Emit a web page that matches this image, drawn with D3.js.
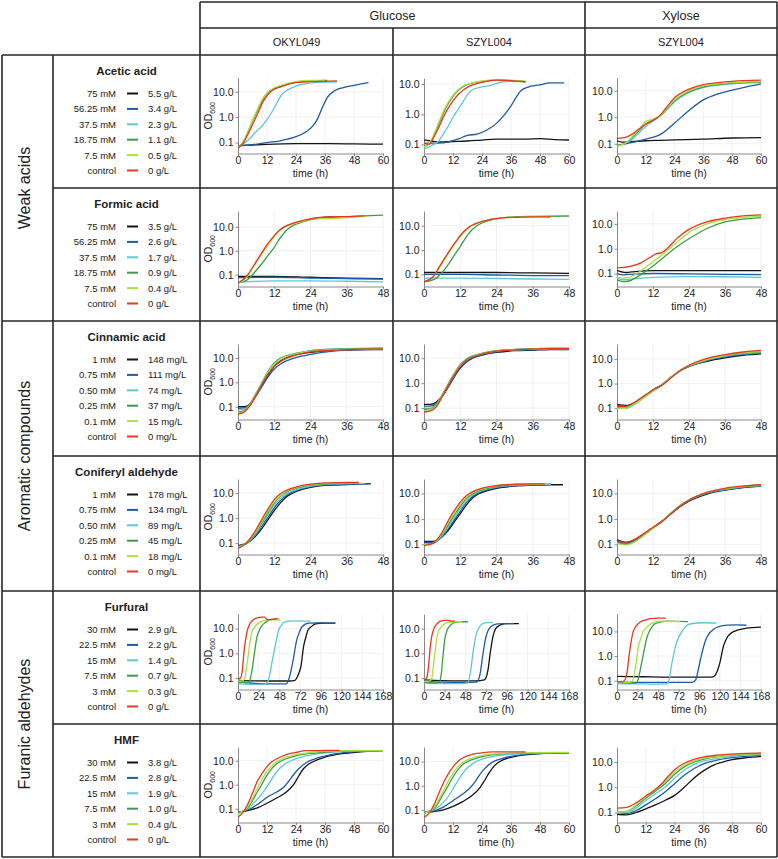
<!DOCTYPE html>
<html><head><meta charset="utf-8">
<script src="https://cdn.jsdelivr.net/npm/d3@7"></script>
<style>
body{margin:0;background:#fff}
svg{display:block}
text{font-family:"Liberation Sans",Arial,Helvetica,sans-serif;fill:#222}
</style>
</head><body>
<svg id="c" width="778" height="859"></svg>
<script>
// ---------- categories / labels ----------
const sugars = ["Glucose", "Xylose"];
const strains = ["OKYL049", "SZYL004", "SZYL004"];
const groups = ["Weak acids", "Aromatic compounds", "Furanic aldehydes"];
const compounds = ["Acetic acid", "Formic acid", "Cinnamic acid", "Coniferyl aldehyde", "Furfural", "HMF"];
const concMolar = [
  ["75 mM", "56.25 mM", "37.5 mM", "18.75 mM", "7.5 mM", "control"],
  ["75 mM", "56.25 mM", "37.5 mM", "18.75 mM", "7.5 mM", "control"],
  ["1 mM", "0.75 mM", "0.50 mM", "0.25 mM", "0.1 mM", "control"],
  ["1 mM", "0.75 mM", "0.50 mM", "0.25 mM", "0.1 mM", "control"],
  ["30 mM", "22.5 mM", "15 mM", "7.5 mM", "3 mM", "control"],
  ["30 mM", "22.5 mM", "15 mM", "7.5 mM", "3 mM", "control"]
];
const concMass = [
  ["5.5 g/L", "3.4 g/L", "2.3 g/L", "1.1 g/L", "0.5 g/L", "0 g/L"],
  ["3.5 g/L", "2.6 g/L", "1.7 g/L", "0.9 g/L", "0.4 g/L", "0 g/L"],
  ["148 mg/L", "111 mg/L", "74 mg/L", "37 mg/L", "15 mg/L", "0 mg/L"],
  ["178 mg/L", "134 mg/L", "89 mg/L", "45 mg/L", "18 mg/L", "0 mg/L"],
  ["2.9 g/L", "2.2 g/L", "1.4 g/L", "0.7 g/L", "0.3 g/L", "0 g/L"],
  ["3.8 g/L", "2.8 g/L", "1.9 g/L", "1.0 g/L", "0.4 g/L", "0 g/L"]
];
const seriesColors = ["#141414", "#1f5aa6", "#5cc8d6", "#3e9b4a", "#a8e23e", "#e8371f"];
const timeMax = [60, 48, 48, 48, 168, 60];
const timeStep = [12, 12, 12, 12, 24, 12];
const yTicks = [0.1, 1, 10];
const yTickLabels = ["0.1", "1.0", "10.0"];
const yDomains = [
  [[0.037, 35], [0.05, 16], [0.043, 30]],
  [[0.032, 46], [0.032, 40], [0.03, 33]],
  [[0.03, 37], [0.035, 37], [0.035, 40]],
  [[0.035, 37], [0.04, 37], [0.04, 37]],
  [[0.034, 39], [0.035, 39], [0.044, 51]],
  [[0.027, 37], [0.03, 40], [0.04, 40]]
];

// ---------- OD600 series: [time h, OD] ; order: c1 (black) .. c5 (lime), control (red) ----------
const aceticOkyl = [
  [[0,0.075],[6,0.08],[12,0.085],[24,0.09],[36,0.09],[48,0.088],[60,0.087]],
  [[0,0.075],[6,0.082],[12,0.1],[18,0.12],[24,0.17],[28,0.26],[31,0.45],[33,0.9],[35,2.5],[37,6],[40,11],[44,15],[48,18],[54,23]],
  [[0,0.065],[4,0.12],[8,0.3],[10,0.45],[12,0.8],[14,1.6],[16,3.5],[18,7.5],[20,11],[22,14],[26,19],[30,22],[36,24],[41,24]],
  [[0,0.065],[2,0.1],[4,0.25],[6,0.7],[8,1.8],[10,4.5],[12,8.5],[14,12],[18,17],[24,24],[30,27],[37,28]],
  [[0,0.065],[2,0.1],[4,0.26],[6,0.75],[8,2],[10,5],[12,9],[14,12.5],[18,18],[24,25],[30,28],[36,28]],
  [[0,0.06],[2,0.09],[4,0.2],[6,0.5],[8,1.3],[10,3.5],[12,7],[14,11],[18,16],[24,23],[30,25],[36,26],[41,27]]
];
const aceticSzylGlc = [
  [[0,0.14],[3,0.13],[6,0.12],[12,0.125],[18,0.13],[24,0.14],[30,0.15],[36,0.15],[42,0.15],[48,0.155],[54,0.145],[60,0.14]],
  [[0,0.11],[3,0.11],[6,0.11],[10,0.12],[14,0.15],[18,0.2],[22,0.22],[26,0.3],[30,0.5],[33,0.9],[36,1.9],[38,3.5],[40,6],[43,8],[48,9.5],[52,11],[58,11]],
  [[0,0.07],[3,0.09],[6,0.13],[8,0.22],[10,0.4],[12,0.8],[14,1.4],[16,2.5],[18,4.5],[20,6.5],[23,7.8],[27,9],[30,10.5],[33,12],[38,12.5],[42,12]],
  [[0,0.08],[3,0.13],[5,0.3],[7,0.7],[9,1.6],[11,3],[13,5],[16,8],[20,11],[25,12.5],[30,13.5],[36,13],[42,12]],
  [[0,0.08],[3,0.14],[5,0.32],[7,0.8],[9,1.8],[11,3.3],[13,5.3],[16,8.5],[20,11],[25,13],[30,14],[36,13.5],[42,12.5]],
  [[0,0.11],[2,0.1],[4,0.17],[6,0.35],[8,0.8],[10,1.6],[12,2.8],[15,5.3],[19,8.8],[24,11.5],[30,13.5],[36,13],[42,12]]
];
const aceticSzylXyl = [
  [[0,0.13],[2,0.115],[6,0.12],[12,0.13],[18,0.135],[24,0.14],[36,0.15],[48,0.165],[60,0.17]],
  [[0,0.085],[6,0.11],[12,0.15],[18,0.22],[24,0.6],[30,1.8],[36,4.5],[42,7.5],[48,10.5],[54,14],[60,18]],
  [[0,0.08],[3,0.1],[6,0.14],[9,0.25],[12,0.45],[15,0.7],[18,1.1],[21,2],[24,3.8],[30,8.5],[36,13],[42,16],[48,18],[60,20]],
  [[0,0.085],[3,0.1],[6,0.16],[9,0.3],[12,0.55],[15,0.8],[18,1.1],[21,2.2],[24,4.2],[30,9],[36,14],[42,17],[48,19],[60,21]],
  [[0,0.08],[3,0.1],[6,0.17],[9,0.35],[12,0.7],[15,0.85],[18,1.1],[21,2.3],[24,4.5],[30,10],[36,15],[42,18],[48,20],[60,22]],
  [[0,0.16],[3,0.17],[6,0.22],[9,0.35],[12,0.55],[15,0.75],[18,1.2],[21,2.6],[24,5.4],[30,11.5],[36,17],[42,20],[48,22.5],[60,25]]
];
const formicOkyl = [
  [[0,0.085],[12,0.085],[24,0.078],[36,0.072],[48,0.068]],
  [[0,0.075],[12,0.078],[24,0.072],[36,0.068],[48,0.066]],
  [[0,0.05],[6,0.052],[12,0.055],[24,0.055],[36,0.053],[48,0.05]],
  [[0,0.045],[3,0.06],[6,0.15],[8,0.3],[10,0.65],[12,1.4],[14,3.5],[16,7],[18,11],[20,14],[24,20],[30,25],[36,27],[42,29],[48,31]],
  [[0,0.045],[3,0.08],[5,0.2],[7,0.5],[9,1.2],[11,2.6],[13,5.5],[15,9],[18,13],[22,18],[26,22],[30,22],[36,24],[42,28]],
  [[0,0.045],[3,0.09],[5,0.22],[7,0.55],[9,1.4],[11,3],[13,6],[15,9.5],[18,14],[22,19],[26,24],[30,27],[36,27],[42,29]]
];
const formicSzylGlc = [
  [[0,0.12],[12,0.12],[24,0.12],[36,0.115],[48,0.11]],
  [[0,0.1],[12,0.1],[24,0.095],[36,0.09],[48,0.09]],
  [[0,0.07],[12,0.07],[24,0.068],[36,0.065],[48,0.063]],
  [[0,0.05],[3,0.06],[6,0.12],[8,0.25],[10,0.6],[12,1.4],[14,3.5],[16,7],[18,11],[22,17],[26,21],[30,23],[36,24],[48,25]],
  [[0,0.05],[3,0.08],[5,0.18],[7,0.45],[9,1.1],[11,2.5],[13,5],[15,8.5],[18,13],[22,18],[26,21],[30,22],[36,23],[42,23]],
  [[0,0.05],[3,0.08],[5,0.2],[7,0.5],[9,1.2],[11,2.7],[13,5.5],[15,9],[18,13.5],[22,18],[26,21],[30,22],[36,23],[42,23]]
];
const formicSzylXyl = [
  [[0,0.135],[3,0.11],[6,0.12],[12,0.13],[24,0.13],[36,0.13],[48,0.13]],
  [[0,0.1],[2,0.088],[6,0.095],[12,0.1],[24,0.097],[36,0.093],[48,0.09]],
  [[0,0.065],[2,0.056],[6,0.062],[12,0.07],[24,0.075],[36,0.074],[48,0.07]],
  [[0,0.055],[2,0.047],[4,0.05],[6,0.065],[9,0.11],[12,0.2],[16,0.5],[20,1.2],[24,2.5],[30,6.5],[36,12],[42,15.5],[48,18]],
  [[0,0.075],[2,0.065],[4,0.07],[6,0.09],[9,0.16],[12,0.3],[16,0.7],[20,1.8],[24,4.5],[30,10],[36,15],[42,18],[48,20]],
  [[0,0.17],[4,0.19],[8,0.27],[11,0.45],[13,0.62],[15,0.7],[17,1.1],[20,2.6],[24,6],[30,12],[36,17],[42,21],[48,23]]
];
const cinnamicOkyl = [
  [[0,0.1],[2,0.1],[4,0.13],[6,0.3],[8,0.8],[10,2],[12,4.5],[14,7.5],[16,10],[20,14],[24,17],[30,20],[36,21],[42,22],[48,22]],
  [[0,0.085],[2,0.09],[4,0.12],[6,0.28],[8,0.7],[10,1.7],[12,3.5],[14,5.5],[16,7.5],[20,11],[24,14],[30,18],[36,21],[42,22],[48,23]],
  [[0,0.075],[2,0.08],[4,0.13],[6,0.35],[8,1],[10,2.8],[12,6],[14,9.5],[16,12],[20,16],[24,20],[30,23],[36,24],[42,25],[48,26]],
  [[0,0.06],[2,0.07],[4,0.13],[6,0.35],[8,1],[10,2.8],[12,6],[14,9.5],[16,12],[20,16],[24,19.5],[30,22],[36,23],[42,24],[48,24]],
  [[0,0.055],[2,0.065],[4,0.12],[6,0.33],[8,0.95],[10,2.6],[12,5.5],[14,9],[16,11.5],[20,15.5],[24,19],[30,21],[36,22],[42,23],[48,23]],
  [[0,0.05],[2,0.06],[4,0.11],[6,0.3],[8,0.85],[10,2.2],[12,4.5],[14,7],[16,9.5],[20,14],[24,17.5],[30,20],[36,21.5],[42,23],[48,23]]
];
const cinnamicSzylGlc = [
  [[0,0.14],[2,0.14],[4,0.17],[6,0.3],[8,0.7],[10,1.8],[12,4],[14,7],[16,10],[20,14],[24,17],[30,20],[36,21],[42,22],[48,22]],
  [[0,0.12],[2,0.12],[4,0.15],[6,0.3],[8,0.7],[10,1.8],[12,4],[14,7],[16,10],[20,14.5],[24,18],[30,21],[36,22],[42,23],[48,23]],
  [[0,0.1],[2,0.1],[4,0.14],[6,0.33],[8,0.9],[10,2.4],[12,5.5],[14,9],[16,12],[20,16],[24,19.5],[30,22],[36,23],[42,24],[48,24]],
  [[0,0.09],[2,0.09],[4,0.13],[6,0.33],[8,0.9],[10,2.4],[12,5.5],[14,9],[16,12],[20,16.5],[24,20],[30,22.5],[36,24],[42,25],[48,25]],
  [[0,0.08],[2,0.085],[4,0.12],[6,0.3],[8,0.85],[10,2.3],[12,5.2],[14,8.5],[16,11.5],[20,16],[24,19.5],[30,22],[36,23],[42,24],[48,24]],
  [[0,0.07],[2,0.075],[4,0.11],[6,0.28],[8,0.8],[10,2.1],[12,4.8],[14,8],[16,11],[20,15.5],[24,19],[30,21.5],[36,23],[42,24],[48,24]]
];
const cinnamicSzylXyl = [
  [[0,0.14],[3,0.13],[6,0.17],[9,0.3],[12,0.55],[15,0.9],[18,1.8],[21,3.3],[24,5],[30,8],[36,11],[42,14],[48,16]],
  [[0,0.13],[3,0.12],[6,0.17],[9,0.3],[12,0.55],[15,0.9],[18,1.8],[21,3.3],[24,5],[30,8.5],[36,12],[42,15],[48,17]],
  [[0,0.12],[3,0.11],[6,0.16],[9,0.28],[12,0.5],[15,0.9],[18,1.8],[21,3.4],[24,5.2],[30,9],[36,13],[42,16],[48,18.5]],
  [[0,0.11],[3,0.1],[6,0.15],[9,0.27],[12,0.5],[15,0.85],[18,1.8],[21,3.4],[24,5.3],[30,9.5],[36,14],[42,17],[48,19.5]],
  [[0,0.1],[3,0.1],[6,0.15],[9,0.27],[12,0.5],[15,0.85],[18,1.8],[21,3.4],[24,5.3],[30,9.5],[36,14],[42,17.5],[48,20]],
  [[0,0.12],[3,0.12],[6,0.18],[9,0.32],[12,0.55],[15,0.85],[18,1.7],[21,3.3],[24,5.5],[30,10.5],[36,15],[42,19],[48,22]]
];
const coniferylOkyl = [
  [[0,0.08],[3,0.1],[6,0.2],[8,0.4],[10,0.9],[12,2],[14,4],[16,7],[18,10],[21,14],[24,17],[30,21],[36,22],[44,24]],
  [[0,0.075],[3,0.1],[6,0.22],[8,0.5],[10,1.1],[12,2.6],[14,5],[16,8],[18,11],[21,15],[24,18],[30,22],[36,23],[44,24]],
  [[0,0.07],[3,0.1],[6,0.25],[8,0.6],[10,1.4],[12,3.3],[14,6],[16,9.5],[18,12],[21,16],[24,19],[30,23],[36,24],[42,24]],
  [[0,0.065],[3,0.1],[6,0.28],[8,0.7],[10,1.7],[12,4],[14,7.5],[16,11],[18,14],[21,18],[24,21],[30,24],[36,25],[40,25]],
  [[0,0.065],[3,0.11],[6,0.3],[8,0.8],[10,2],[12,4.5],[14,8],[16,12],[18,15],[21,19],[24,22],[30,25],[36,26],[40,26]],
  [[0,0.06],[3,0.11],[6,0.35],[8,0.95],[10,2.4],[12,5.5],[14,9.5],[16,13],[18,16],[21,20],[24,23],[30,26],[36,27],[40,27]]
];
const coniferylSzylGlc = [
  [[0,0.13],[3,0.13],[6,0.2],[8,0.35],[10,0.75],[12,1.6],[14,3.5],[16,6.5],[18,9.5],[21,13],[24,16],[30,19.5],[36,21],[42,22],[46,22]],
  [[0,0.12],[3,0.12],[6,0.2],[8,0.4],[10,0.9],[12,2],[14,4.3],[16,7.5],[18,10.5],[21,14],[24,17],[30,20.5],[36,22],[42,23]],
  [[0,0.1],[3,0.11],[6,0.22],[8,0.5],[10,1.1],[12,2.6],[14,5],[16,8.5],[18,11.5],[21,15],[24,18],[30,21],[36,22.5],[42,23]],
  [[0,0.1],[3,0.11],[6,0.25],[8,0.6],[10,1.4],[12,3.2],[14,6.2],[16,9.5],[18,12.5],[21,16],[24,19],[30,22],[36,23],[40,23]],
  [[0,0.095],[3,0.11],[6,0.27],[8,0.7],[10,1.7],[12,3.8],[14,7],[16,10.5],[18,13.5],[21,17],[24,20],[30,22.5],[36,23.5],[40,23.5]],
  [[0,0.09],[3,0.11],[6,0.3],[8,0.85],[10,2.1],[12,4.6],[14,8.2],[16,11.5],[18,14.5],[21,18],[24,20.5],[30,23],[36,24],[40,24]]
];
const coniferylSzylXyl = [
  [[0,0.15],[3,0.12],[6,0.15],[9,0.25],[12,0.45],[15,0.8],[18,1.6],[21,3],[24,5],[30,9.5],[36,13.5],[42,17],[48,19.5]],
  [[0,0.14],[3,0.11],[6,0.14],[9,0.24],[12,0.45],[15,0.8],[18,1.6],[21,3.1],[24,5.2],[30,10],[36,14],[42,17.5],[48,20]],
  [[0,0.13],[3,0.1],[6,0.13],[9,0.23],[12,0.43],[15,0.8],[18,1.7],[21,3.3],[24,5.5],[30,10.5],[36,14.5],[42,18],[48,20.5]],
  [[0,0.12],[3,0.1],[6,0.13],[9,0.23],[12,0.43],[15,0.8],[18,1.7],[21,3.3],[24,5.5],[30,10.5],[36,15],[42,18.5],[48,21]],
  [[0,0.11],[3,0.095],[6,0.13],[9,0.23],[12,0.43],[15,0.8],[18,1.7],[21,3.4],[24,5.6],[30,11],[36,15.5],[42,19],[48,21.5]],
  [[0,0.13],[3,0.12],[6,0.16],[9,0.27],[12,0.47],[15,0.8],[18,1.6],[21,3.2],[24,5.5],[30,11],[36,16],[42,19.5],[48,22]]
];
const furfuralOkyl = [
  [[0,0.08],[20,0.076],[40,0.075],[60,0.075],[66,0.08],[70,0.14],[73,0.3],[76,1.9],[79,5],[81,8.6],[85,12],[90,15.7],[100,16.5],[113,16.7]],
  [[0,0.07],[20,0.06],[40,0.057],[56,0.058],[60,0.12],[64,0.56],[68,3.4],[71,7],[74,11.6],[82,16.7],[95,17],[105,16.7],[112,16.7]],
  [[0,0.06],[12,0.055],[30,0.055],[34,0.065],[37,0.15],[40,0.56],[43,1.9],[47,8.6],[50,13],[53,18],[60,20],[70,20.5],[80,20],[84,20]],
  [[0,0.07],[8,0.065],[13,0.068],[15,0.12],[17,0.3],[19,1],[22,4.6],[25,9],[28,13.5],[32,18],[36,22],[42,24],[47,25]],
  [[0,0.075],[5,0.075],[8,0.1],[10,0.3],[12,0.9],[14,3],[16,7],[19,11],[22,15],[27,19],[32,22],[40,22.5],[49,22]],
  [[0,0.09],[3,0.1],[5,0.2],[7,1.2],[9,4],[11,9],[14,16],[18,23],[22,27],[28,29],[31,29],[34,23],[40,24],[45,25]]
];
const furfuralSzylGlc = [
  [[0,0.085],[20,0.08],[40,0.078],[60,0.078],[70,0.085],[74,0.2],[77,1.2],[80,5],[83,10],[88,14],[96,16],[105,16],[110,16]],
  [[0,0.075],[20,0.07],[40,0.068],[61,0.07],[65,0.15],[68,0.8],[71,3.5],[74,8],[78,12.5],[85,15.5],[94,16],[104,16]],
  [[0,0.065],[20,0.06],[40,0.06],[51,0.065],[54,0.2],[57,1.2],[60,5],[63,10],[67,15],[72,17.5],[80,17.5]],
  [[0,0.07],[10,0.065],[18,0.07],[20,0.15],[22,0.8],[24,3.5],[27,9],[31,14],[36,18],[42,19],[51,19]],
  [[0,0.075],[6,0.075],[9,0.1],[11,0.35],[13,1.3],[15,4.5],[18,9.5],[22,14],[28,18],[36,19],[44,19]],
  [[0,0.085],[3,0.1],[5,0.25],[7,1.5],[9,5],[12,11],[16,17],[21,21],[27,22],[32,20],[36,20]]
];
const furfuralSzylXyl = [
  [[0,0.15],[30,0.145],[60,0.14],[90,0.14],[110,0.14],[114,0.16],[117,0.25],[120,0.53],[124,2.4],[127,4.5],[130,6.7],[135,9.5],[140,11.2],[151,13.5],[168,15]],
  [[0,0.09],[30,0.085],[60,0.085],[88,0.085],[92,0.11],[95,0.3],[98,0.9],[101,2.4],[104,5],[107,7.8],[111,11],[116,14.4],[128,18],[140,18.5],[151,17.8]],
  [[0,0.075],[20,0.075],[40,0.073],[58,0.075],[61,0.12],[64,0.5],[67,1.6],[70,4],[74,7.8],[78,13],[81,17],[88,21],[100,22.5],[116,22]],
  [[0,0.085],[12,0.08],[22,0.08],[25,0.12],[28,0.4],[31,1.3],[33,3],[35,5.8],[39,12],[43,19],[50,24],[60,26],[72,25.5],[83,25]],
  [[0,0.085],[10,0.085],[17,0.09],[20,0.17],[23,0.8],[25,2.4],[28,5.5],[31,10.6],[35,15],[39,20],[45,24],[52,26],[62,25.5],[74,25]],
  [[0,0.09],[6,0.09],[10,0.12],[12,0.25],[14,1],[16,3],[19,10],[22,16],[27,24],[33,29],[39,33],[48,35],[57,35]]
];
const hmfOkyl = [
  [[0,0.075],[4,0.085],[8,0.11],[12,0.17],[16,0.28],[20,0.5],[23,1],[25,2.2],[27,4.5],[29,7],[31,9],[36,14],[44,20],[52,24],[60,26]],
  [[0,0.07],[4,0.09],[8,0.15],[12,0.3],[16,0.5],[19,0.8],[21,1.4],[23,2.6],[25,4.5],[28,8],[32,12],[40,19],[50,24],[60,26]],
  [[0,0.07],[4,0.1],[8,0.25],[11,0.6],[13,1.2],[15,2.5],[17,4.5],[20,8],[24,12],[30,17],[40,23],[50,25.5],[60,26]],
  [[0,0.065],[4,0.11],[8,0.5],[10,1.1],[12,2.5],[14,4.7],[16,7.5],[20,12],[24,16],[30,20],[40,24],[50,25.5],[60,26]],
  [[0,0.06],[4,0.12],[8,0.7],[10,1.7],[12,3.6],[14,6],[16,9],[20,14],[24,18],[30,22],[40,25],[50,26],[60,26]],
  [[0,0.045],[2,0.07],[4,0.15],[6,0.45],[8,1.4],[10,3],[12,5.7],[14,9],[16,12],[20,18],[24,22],[28,26],[36,26.5],[42,27]]
];
const hmfSzylGlc = [
  [[0,0.075],[4,0.085],[8,0.1],[12,0.14],[16,0.22],[20,0.4],[23,0.8],[25,1.6],[27,3.5],[29,6.5],[31,9.5],[36,15],[44,20],[52,22],[60,23]],
  [[0,0.08],[4,0.09],[8,0.13],[12,0.24],[16,0.45],[19,0.8],[21,1.4],[23,2.8],[25,5],[28,9],[32,13],[40,19],[50,22],[60,23]],
  [[0,0.08],[4,0.1],[8,0.2],[11,0.5],[13,1.1],[15,2.3],[17,4.3],[20,8],[24,12.5],[30,17],[40,21],[50,23],[60,23]],
  [[0,0.075],[4,0.11],[8,0.45],[10,1],[12,2.3],[14,4.5],[16,7.5],[20,12],[24,16],[30,20],[40,22.5],[50,23],[60,23.5]],
  [[0,0.07],[4,0.12],[8,0.6],[10,1.5],[12,3.3],[14,6],[16,9],[20,14],[24,18],[30,21],[40,23],[50,23.5],[60,24]],
  [[0,0.05],[2,0.07],[4,0.15],[6,0.45],[8,1.3],[10,3],[12,6],[14,10],[16,14],[20,20],[24,23],[28,25],[36,25],[42,25]]
];
const hmfSzylXyl = [
  [[0,0.085],[4,0.08],[8,0.1],[12,0.14],[16,0.2],[20,0.3],[24,0.48],[28,1],[32,2.3],[36,4.5],[40,7.5],[44,10],[48,12.5],[54,15],[60,17]],
  [[0,0.1],[4,0.09],[8,0.12],[12,0.2],[16,0.35],[20,0.65],[24,1.4],[28,3],[32,5.5],[36,8.5],[40,11],[48,15],[54,17],[60,19]],
  [[0,0.1],[4,0.1],[8,0.15],[12,0.3],[16,0.55],[20,1],[24,2.3],[28,4.8],[32,8],[36,11],[42,14],[48,17],[54,19],[60,20]],
  [[0,0.1],[4,0.11],[8,0.18],[12,0.37],[16,0.7],[20,1.4],[24,3.3],[28,6.5],[32,10],[36,13],[42,16.5],[48,19],[54,20.5],[60,21.5]],
  [[0,0.1],[4,0.11],[8,0.2],[12,0.42],[16,0.8],[20,1.7],[24,4],[28,7.5],[32,11],[36,14],[42,17],[48,19.5],[54,21],[60,22]],
  [[0,0.15],[4,0.16],[8,0.24],[12,0.45],[15,0.7],[18,1.2],[21,2.5],[24,5],[28,9],[32,13],[36,16],[42,19],[48,21],[54,22.5],[60,23.5]]
];

const panels = [
  [aceticOkyl, aceticSzylGlc, aceticSzylXyl],
  [formicOkyl, formicSzylGlc, formicSzylXyl],
  [cinnamicOkyl, cinnamicSzylGlc, cinnamicSzylXyl],
  [coniferylOkyl, coniferylSzylGlc, coniferylSzylXyl],
  [furfuralOkyl, furfuralSzylGlc, furfuralSzylXyl],
  [hmfOkyl, hmfSzylGlc, hmfSzylXyl]
];

// ---------- layout ----------
const svg = d3.select("#c");
const colX = [200, 393, 585, 777];
const rowY = [55, 188, 321, 456, 591, 724, 857];
const headerY = [2, 28, 55];
const leftX = [2, 53, 200];
const plotL = [38, 31, 32];
const plotR = [183, 176, 176];
const plotT = 23, plotB = 98.5;
const lineColor = "#262626";

panels.forEach((row, r) => {
  row.forEach((series, c) => {
    const x = d3.scaleLinear().domain([0, timeMax[r]])
      .range([colX[c] + plotL[c], colX[c] + plotR[c]]);
    const y = d3.scaleLog().domain(yDomains[r][c])
      .range([rowY[r] + plotB, rowY[r] + plotT]);
    const xt = d3.range(0, timeMax[r] + 1, timeStep[r]);
    const g = svg.append("g");
    // grid
    g.append("g").selectAll("line").data(xt.slice(1)).join("line")
      .attr("x1", d => x(d)).attr("x2", d => x(d))
      .attr("y1", y.range()[0]).attr("y2", y.range()[1])
      .attr("stroke", "#ededed").attr("stroke-width", 0.8);
    g.append("g").selectAll("line").data(yTicks).join("line")
      .attr("x1", x.range()[0]).attr("x2", x.range()[1])
      .attr("y1", d => y(d)).attr("y2", d => y(d))
      .attr("stroke", "#ededed").attr("stroke-width", 0.8);
    // axes
    const ax = g.append("g").attr("transform", `translate(0,${y.range()[0]})`)
      .call(d3.axisBottom(x).tickValues(xt).tickSize(2.5).tickSizeOuter(0).tickPadding(1));
    const ay = g.append("g").attr("transform", `translate(${x.range()[0]},0)`)
      .call(d3.axisLeft(y).tickValues(yTicks).tickFormat((d, i) => yTickLabels[i]).tickSize(2.5).tickSizeOuter(0).tickPadding(2));
    [ax, ay].forEach(a => {
      a.select(".domain").attr("stroke", "#8a8a8a");
      a.selectAll(".tick line").attr("stroke", "#8a8a8a");
      a.selectAll(".tick text").attr("font-size", 10.5).attr("fill", "#222")
        .attr("font-family", '"Liberation Sans",Arial,sans-serif');
    });
    // x title
    g.append("text").attr("x", (x.range()[0] + x.range()[1]) / 2).attr("y", rowY[r] + 121.5)
      .attr("text-anchor", "middle").attr("font-size", 10.5).text("time (h)");
    if (c === 0) {
      const t = g.append("text")
        .attr("transform", `translate(${colX[0] + 12},${(y.range()[0] + y.range()[1]) / 2}) rotate(-90)`)
        .attr("text-anchor", "middle").attr("font-size", 10.5);
      t.append("tspan").text("OD");
      t.append("tspan").attr("font-size", 7).attr("dy", 2.5).text("600");
    }
    // curves
    const line = d3.line().x(d => x(d[0])).y(d => y(d[1])).curve(d3.curveMonotoneX);
    g.append("g").selectAll("path").data(series).join("path")
      .attr("d", line).attr("fill", "none")
      .attr("stroke", (d, i) => seriesColors[i]).attr("stroke-width", 1.3)
      .attr("stroke-linejoin", "round");
  });
});

// legends
compounds.forEach((name, r) => {
  const cx = (leftX[1] + leftX[2]) / 2;
  svg.append("text").attr("x", cx).attr("y", rowY[r] + 20)
    .attr("text-anchor", "middle").attr("font-size", 11.5).attr("font-weight", "bold").text(name);
  concMolar[r].forEach((lab, i) => {
    const yy = rowY[r] + 38.5 + i * 15.4;
    svg.append("text").attr("x", 116).attr("y", yy + 3.5).attr("text-anchor", "end")
      .attr("font-size", 9.5).attr("fill", "#333").text(lab);
    svg.append("line").attr("x1", 127).attr("x2", 138).attr("y1", yy).attr("y2", yy)
      .attr("stroke", seriesColors[i]).attr("stroke-width", 2);
    svg.append("text").attr("x", 148).attr("y", yy + 3.5)
      .attr("font-size", 9.5).attr("fill", "#333").text(concMass[r][i]);
  });
});

// group labels
groups.forEach((name, k) => {
  const cy = (rowY[2 * k] + rowY[2 * k + 2]) / 2;
  svg.append("text").attr("transform", `translate(30,${cy}) rotate(-90)`)
    .attr("text-anchor", "middle").attr("font-size", 16).text(name);
});

// header text
svg.append("text").attr("x", (colX[0] + colX[2]) / 2).attr("y", 20).attr("text-anchor", "middle")
  .attr("font-size", 12.5).text(sugars[0]);
svg.append("text").attr("x", (colX[2] + colX[3]) / 2).attr("y", 20).attr("text-anchor", "middle")
  .attr("font-size", 12.5).text(sugars[1]);
strains.forEach((s, c) => {
  svg.append("text").attr("x", (colX[c] + colX[c + 1]) / 2).attr("y", 46).attr("text-anchor", "middle")
    .attr("font-size", 11).text(s);
});

// table lines
const T = svg.append("g").attr("stroke", lineColor).attr("stroke-width", 1.6).attr("fill", "none");
const L = (x1, y1, x2, y2) => T.append("line").attr("x1", x1).attr("y1", y1).attr("x2", x2).attr("y2", y2);
L(colX[0], headerY[0], colX[3], headerY[0]);
L(colX[0], headerY[1], colX[3], headerY[1]);
L(colX[0], headerY[0], colX[0], rowY[6]);
L(colX[3], headerY[0], colX[3], rowY[6]);
L(colX[2], headerY[0], colX[2], rowY[6]);
L(colX[1], headerY[1], colX[1], rowY[6]);
L(leftX[0], rowY[0], leftX[0], rowY[6]);
L(leftX[1], rowY[0], leftX[1], rowY[6]);
rowY.forEach((yy, i) => {
  if (i % 2 === 0) L(leftX[0], yy, colX[3], yy);
  else L(leftX[1], yy, colX[3], yy);
});
</script>
</body></html>
